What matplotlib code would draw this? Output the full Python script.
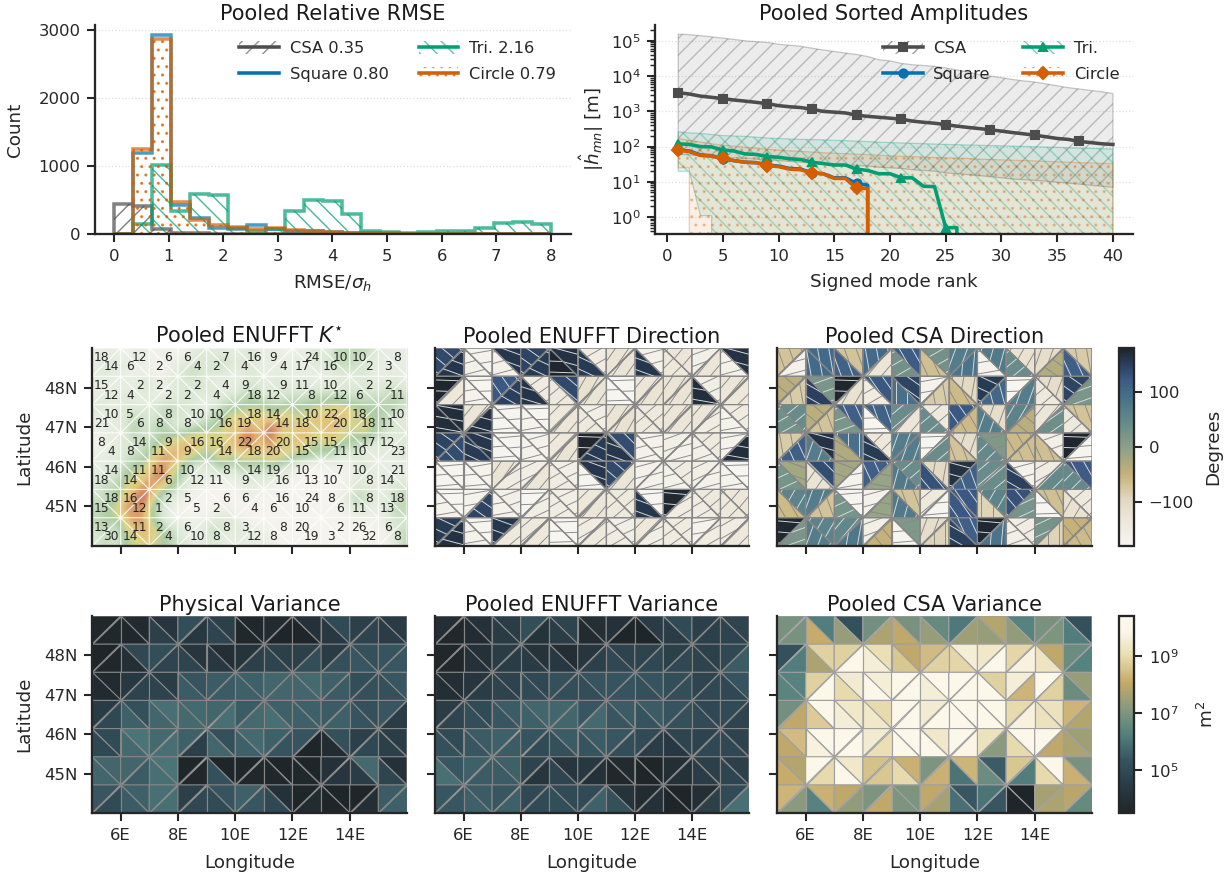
import matplotlib
matplotlib.use('Agg')
import matplotlib.pyplot as plt
import numpy as np
from matplotlib.collections import LineCollection
from matplotlib.colors import LinearSegmentedColormap, LogNorm, Normalize
from matplotlib.legend_handler import HandlerTuple
from matplotlib.lines import Line2D
from matplotlib.patches import Patch, Polygon

W, H = 1228, 879

plt.rcParams['font.family'] = 'DejaVu Sans'
plt.rcParams['hatch.linewidth'] = 0.7
plt.rcParams['text.color'] = '#262626'
plt.rcParams['axes.labelcolor'] = '#262626'
plt.rcParams['xtick.color'] = '#262626'
plt.rcParams['ytick.color'] = '#262626'
plt.rcParams['axes.edgecolor'] = '#262626'

COLORS = {'CSA': '#4d4d4d', 'Square': '#0072b2', 'Tri': '#009e73', 'Circle': '#d55e00'}
HATCH = {'CSA': '///', 'Square': None, 'Tri': '\\\\\\', 'Circle': '...'}
MARKERS = {'CSA': 's', 'Square': 'o', 'Tri': '^', 'Circle': 'D'}

# histogram counts, 23 bins between 0 and 8
n_bins = 23
hist_csa = [440, 410, 70, 20, 10, 5, 3, 2, 2, 1, 1, 0, 0, 0, 0, 0, 0, 0, 0, 0, 0, 0, 0]
hist_square = [0, 1190, 2920, 420, 230, 90, 70, 130, 70, 50, 40, 35, 15, 10, 5, 3, 2, 2, 1, 1, 0, 0, 0]
hist_tri = [0, 140, 1020, 340, 590, 570, 90, 40, 70, 340, 500, 480, 290, 50, 25, 10, 35, 40, 50, 95, 155, 180, 150]
hist_circle = [0, 1250, 2860, 470, 210, 130, 100, 70, 85, 55, 40, 30, 20, 15, 10, 5, 3, 2, 2, 1, 1, 0, 0]
hist_labels = {'CSA': 'CSA 0.35', 'Square': 'Square 0.80', 'Tri': 'Tri. 2.16', 'Circle': 'Circle 0.79'}
amp_labels = {'CSA': 'CSA', 'Square': 'Square', 'Tri': 'Tri.', 'Circle': 'Circle'}

# sorted amplitudes, rank 1..40
amp_csa = [3400, 3100, 2700, 2500, 2300, 2100, 1950, 1800, 1650, 1450, 1350, 1280, 1150, 1000, 950, 900, 780, 720,
           680, 640, 600, 530, 490, 460, 420, 380, 350, 325, 300, 275, 250, 230, 210, 190, 170, 160, 140, 130, 120, 115]
amp_square = [80, 75, 58, 55, 45, 40, 36, 35, 30, 28, 24, 23, 18, 17, 13, 13, 9, 8] + [0] * 22
amp_tri = [120, 115, 100, 98, 80, 75, 62, 60, 52, 50, 45, 43, 36, 33, 30, 30, 23, 21, 17, 17, 13, 13, 7.5, 7.3,
           0.5, 0.5] + [0] * 14
amp_circle = [80, 72, 56, 54, 46, 40, 36, 35, 29, 27, 23, 22, 18, 17, 12.5, 12.5, 6.5, 6.5] + [0] * 22

band_csa_hi = [1.55e5, 1.5e5, 1.4e5, 1.3e5, 1.2e5, 1.1e5, 1e5, 9.5e4, 9e4, 8e4, 7.5e4, 7e4, 6.2e4, 5.5e4, 5e4, 4.5e4,
               4.1e4, 3.6e4, 2.9e4, 2.7e4, 2.3e4, 2.1e4, 2e4, 1.9e4, 1.7e4, 1.5e4, 1.3e4, 1.1e4, 1e4, 9e3, 8e3, 7.3e3,
               6.8e3, 6e3, 5.3e3, 4.7e3, 4.3e3, 3.9e3, 3.6e3, 3.2e3]
band_csa_lo = [60, 58, 55, 53, 50, 48, 46, 44, 42, 40, 38, 36, 34, 33, 32, 30, 29, 28, 26, 25, 24, 22, 21, 20, 18, 17,
               16, 15, 14, 13, 12, 11.5, 11, 10.5, 9.7, 9.2, 8.6, 8, 7.5, 7]
band_tri_hi = [260, 245, 235, 220, 205, 200, 195, 185, 175, 170, 165, 160, 158, 155, 150, 147, 143, 138, 134, 130,
               127, 124, 121, 118, 115, 113, 111, 109, 107, 105, 103, 101, 99, 97, 95, 93, 91, 89, 87, 85]
band_tri_lo = [20, 20, 1.1, 1.1] + [0] * 36
band_circle_hi = [170, 150, 135, 120, 110, 103, 96, 90, 84, 80, 76, 73, 70, 67, 65, 63, 61, 59, 57, 55,
                  53, 52, 51, 49, 48, 47, 46, 44, 43, 42, 41, 40, 39, 38, 37, 36, 35, 34.5, 33.5, 33]
band_circle_lo = [25, 25] + [0] * 38

# grid of the triangle panels
lon_edges = [5, 6, 7, 8, 9, 10, 11, 12, 13, 14, 15, 16]
lat_rows = 7
lat_min, lat_max = 44, 49
lon_ticks = [6, 8, 10, 12, 14]
lon_labels = ['6E', '8E', '10E', '12E', '14E']
lat_ticks = [45, 46, 47, 48]
lat_labels = ['45N', '46N', '47N', '48N']

# diagonal of every cell, top row first
diagonals = ['/\\\\/\\\\/\\\\/\\',
             '/\\/\\\\/\\//\\/',
             '\\/\\\\/\\/\\//\\',
             '/\\\\\\//\\\\/\\/',
             '\\\\//\\\\//\\/\\',
             '\\/\\/\\/\\\\/\\\\',
             '/\\//\\/\\/\\//']

# every row: upper, lower triangle for each of the 11 cells
k_star = [
    [18, 14, 12, 6, 6, 2, 6, 4, 7, 2, 16, 4, 9, 4, 24, 17, 10, 16, 10, 2, 8, 3],
    [15, 12, 2, 4, 2, 2, 2, 2, 4, 4, 9, 18, 9, 12, 11, 8, 10, 12, 2, 6, 2, 11],
    [10, 21, 5, 6, 8, 8, 10, 8, 10, 16, 18, 19, 14, 14, 10, 18, 22, 20, 18, 18, 10, 11],
    [8, 4, 14, 8, 9, 11, 16, 9, 16, 14, 22, 18, 20, 20, 15, 15, 15, 11, 17, 10, 12, 23],
    [14, 18, 11, 14, 11, 6, 10, 12, 8, 11, 14, 9, 19, 16, 10, 13, 7, 10, 10, 8, 21, 14],
    [18, 15, 16, 12, 2, 1, 5, 5, 6, 2, 6, 4, 16, 6, 24, 10, 8, 6, 8, 11, 18, 13],
    [13, 30, 11, 14, 2, 4, 6, 10, 8, 8, 3, 12, 8, 8, 20, 19, 2, 3, 26, 32, 6, 8],
]
dir_enufft = [
    [140, 160, -170, -165, 160, -165, 145, 155, 165, 178, -150, 155, -125, -125, -165, 160, -130, -135, -160, -130, 165, -165],
    [178, -135, -178, -170, 125, 150, -145, 163, 140, -140, -120, -125, -178, -178, -130, -125, -125, -125, -155, 170, -130, -135],
    [170, 170, -130, 165, -175, -175, -178, -170, -135, -130, -155, -140, -125, -120, -140, -140, -130, -130, -130, -150, -145, -170],
    [145, 135, 160, 155, -175, -175, -165, -165, -135, -125, 178, 155, 135, 160, -170, -165, -160, -165, -140, -160, -170, 170],
    [-175, -175, -170, -175, -125, -150, -155, -130, -155, -150, 160, -175, 140, -130, -165, -165, -145, -165, -155, -165, -178, -170],
    [-178, -170, -170, 145, -160, -170, -178, -155, -155, -150, -135, -130, -140, -140, -175, 160, 175, -150, -140, -150, -130, -135],
    [155, 165, -175, -170, 160, -140, -140, -135, -178, -178, -150, -140, -155, -150, -135, -155, -145, -145, -170, -150, -150, -135],
]
dir_csa = [
    [-70, -165, 100, 100, -70, 110, 100, -130, 120, 30, 30, -65, 70, 85, 75, -170, -120, 40, -110, -35, -80, 115],
    [-40, -80, 20, 150, 178, -120, 125, -150, 145, 90, -170, -80, -100, -60, 155, 105, -178, 70, -110, -140, 145, 20],
    [40, 30, -40, -70, 115, 20, 110, -178, 40, -130, -140, 40, 125, -60, -110, 70, 60, -40, -130, 35, -70, -140],
    [-80, 115, 165, 70, 90, -30, -135, 155, 70, 70, -178, 40, -110, -70, 15, 45, -60, -65, -160, -65, 178, -175],
    [-20, 25, 135, -125, -20, -170, 115, -10, 40, 75, -100, 130, 165, 110, 40, 40, -165, 150, -150, 45, 120, 45],
    [60, -60, 70, -70, -175, 25, -165, -10, -70, 75, -140, -175, 125, 125, 60, -90, 130, 25, -65, -178, -140, -120],
    [175, 20, 60, 70, 50, 80, -160, -50, 15, -175, -110, -90, 115, 150, 175, 85, -150, -160, 25, -90, -50, -60],
]
# log10 of the variance in m2
var_physical = [
    [3.6, 3.6, 3.7, 3.6, 4.2, 4.6, 5.1, 4.3, 4.6, 4.8, 3.6, 3.6, 3.7, 3.5, 4.0, 3.5, 5.0, 4.3, 4.6, 4.7, 4.4, 4.5],
    [3.5, 3.6, 4.9, 3.9, 5.1, 4.8, 4.2, 4.8, 3.9, 4.3, 4.1, 4.6, 4.6, 4.8, 4.6, 5.1, 4.4, 5.2, 5.2, 5.4, 5.3, 5.4],
    [3.7, 3.7, 4.3, 4.7, 4.5, 4.7, 5.3, 5.5, 5.5, 5.5, 5.6, 5.6, 5.7, 5.7, 5.8, 5.7, 5.6, 5.5, 5.1, 5.2, 5.4, 5.2],
    [4.4, 4.9, 5.2, 5.6, 5.9, 5.7, 5.8, 5.8, 5.7, 5.9, 5.5, 5.8, 5.6, 5.9, 5.6, 5.6, 5.5, 5.6, 5.2, 5.3, 5.4, 4.5],
    [5.0, 4.9, 6.0, 5.8, 5.8, 5.9, 5.6, 4.6, 5.2, 5.7, 5.8, 5.6, 5.6, 5.3, 5.3, 3.5, 5.2, 3.8, 4.6, 4.9, 4.5, 4.6],
    [5.7, 5.7, 5.7, 5.5, 6.0, 5.9, 3.5, 3.6, 3.5, 5.2, 3.5, 3.6, 3.5, 3.6, 3.5, 3.6, 4.0, 4.2, 5.8, 4.5, 4.0, 4.8],
    [5.4, 5.0, 5.6, 5.5, 5.9, 5.9, 4.6, 4.9, 5.3, 5.0, 5.6, 5.4, 4.0, 4.9, 3.5, 3.7, 3.5, 3.4, 3.5, 3.9, 5.5, 5.6],
]
var_enufft = [
    [3.9, 3.6, 4.0, 3.8, 4.5, 4.4, 5.1, 4.1, 4.7, 4.5, 3.9, 3.7, 4.0, 3.5, 4.4, 3.5, 5.0, 4.5, 4.6, 4.6, 4.8, 4.7],
    [3.6, 3.6, 4.0, 4.0, 4.5, 4.5, 4.1, 4.4, 3.9, 4.3, 4.2, 4.6, 4.7, 4.9, 4.7, 4.9, 4.6, 4.9, 4.6, 4.7, 4.9, 5.5],
    [3.9, 3.9, 4.2, 4.5, 4.7, 4.7, 4.9, 5.0, 5.2, 5.1, 5.3, 5.1, 5.3, 5.3, 5.3, 5.2, 5.1, 5.1, 4.8, 4.9, 5.3, 4.9],
    [4.5, 4.8, 5.0, 5.1, 5.5, 5.4, 5.7, 5.6, 5.7, 5.7, 5.4, 5.8, 5.5, 5.4, 5.5, 5.3, 5.3, 5.2, 4.9, 5.0, 5.0, 4.8],
    [5.0, 5.2, 5.5, 5.4, 5.6, 5.5, 5.3, 5.0, 5.5, 5.2, 5.5, 5.3, 5.4, 5.1, 5.0, 4.5, 4.8, 4.3, 4.7, 4.9, 4.7, 4.9],
    [5.4, 5.9, 5.6, 5.5, 5.6, 5.5, 4.7, 4.2, 4.2, 4.8, 4.3, 4.0, 3.7, 3.6, 3.5, 3.5, 3.9, 4.0, 4.6, 4.5, 4.6, 4.8],
    [5.4, 5.4, 5.5, 5.6, 5.4, 5.6, 4.9, 5.0, 5.0, 5.1, 5.0, 5.6, 4.1, 5.2, 3.7, 4.0, 3.5, 3.5, 3.9, 4.6, 5.0, 5.9],
]
var_csa = [
    [6.9, 6.9, 6.2, 8.1, 5.2, 7.4, 6.8, 7.7, 6.9, 8.0, 6.6, 7.4, 6.1, 7.5, 7.8, 7.4, 6.3, 7.3, 6.9, 7.0, 5.2, 6.2],
    [5.2, 6.2, 8.8, 7.7, 8.8, 10, 9.1, 9.6, 8.0, 8.6, 8.4, 8.8, 9.6, 8.9, 9.4, 10, 8.9, 9.7, 8.0, 9.3, 6.7, 6.3],
    [6.3, 6.4, 8.8, 10, 9.5, 9.0, 9.6, 10, 10, 10, 10, 9.6, 10, 10, 8.8, 10, 9.6, 8.3, 10, 8.8, 7.4, 6.7],
    [6.8, 8.0, 10, 8.7, 9.4, 9.6, 9.0, 9.4, 10, 10, 9.5, 10, 10, 10, 10, 10, 9.0, 9.7, 9.2, 9.2, 8.3, 7.8],
    [8.4, 8.0, 10, 9.7, 10, 10, 9.5, 9.1, 10, 10, 9.4, 10, 10, 9.8, 9.2, 7.2, 10, 9.0, 10, 8.0, 7.5, 7.7],
    [7.8, 8.1, 10, 9.0, 9.4, 10, 8.5, 8.6, 8.2, 9.0, 7.0, 8.2, 8.3, 6.0, 5.5, 6.7, 8.6, 6.2, 10, 9.0, 6.9, 8.2],
    [8.3, 7.2, 8.2, 6.3, 8.0, 7.3, 7.0, 8.0, 7.0, 7.0, 8.0, 7.6, 5.4, 5.9, 6.0, 5.4, 3.5, 3.5, 7.6, 7.7, 7.9, 6.6],
]

# elevation behind the K panel, level 0-8, 3 samples per cell, top row first
terrain = [
    '111011010012121121110112133332111',
    '121111001122232221111112233321111',
    '121101001232221121111111122221111',
    '111112112222111122121111112121121',
    '111112101222211232122222222222232',
    '121211122221123343323334443333343',
    '211222233221234455445455566544432',
    '111232232212346666666557676554321',
    '111242342234456676876675765564322',
    '011232345566656786865765665443212',
    '011223466775566776766654543321212',
    '111233677654465565665443321211112',
    '112345776422242433432100010121111',
    '122456785311111222211000000121111',
    '233567764211000111100000000211122',
    '233678632100000010000000001332123',
    '335778421000000000000000001321133',
    '345777320000011000000000000111133',
    '343677421101222100000000000000122',
    '232567643111321211000000000000023',
    '232456543211211111100000000000013',
]


def px_axes(left, top, right, bottom):
    return fig.add_axes([left / W, 1 - bottom / H, (right - left) / W, (bottom - top) / H])


def style(ax):
    ax.spines['top'].set_visible(False)
    ax.spines['right'].set_visible(False)
    ax.spines['left'].set_linewidth(1.1)
    ax.spines['bottom'].set_linewidth(1.1)
    ax.tick_params(which='major', length=4, width=1.0, labelsize=7.9, pad=3)


# triangles of the grid, ordered like the value rows
def build_triangles():
    nx = len(lon_edges)
    lat_edges = np.linspace(lat_max, lat_min, lat_rows + 1)
    xs, ys = np.meshgrid(lon_edges, lat_edges)
    tris = []
    for r, row in enumerate(diagonals):
        for c, d in enumerate(row):
            ul = r * nx + c
            ur = ul + 1
            ll = ul + nx
            lr = ll + 1
            if d == '/':
                tris.append([ll, ur, ul])
                tris.append([ll, lr, ur])
            else:
                tris.append([ul, lr, ur])
                tris.append([ul, ll, lr])
    return xs.ravel(), ys.ravel(), np.array(tris)


def map_axes(ax, title, xlabels, ylabels):
    style(ax)
    ax.set_xlim(5, 16)
    ax.set_ylim(lat_min, lat_max)
    ax.set_xticks(lon_ticks)
    ax.set_yticks(lat_ticks)
    ax.set_xticklabels(lon_labels if xlabels else [])
    ax.set_yticklabels(lat_labels if ylabels else [])
    ax.set_title(title, fontsize=10, pad=2.5, color='#1a1a1a')
    if xlabels:
        ax.set_xlabel('Longitude', fontsize=8.8, labelpad=5.5)
    if ylabels:
        ax.set_ylabel('Latitude', fontsize=8.8, labelpad=5)


def draw_panel(ax, values, cmap, norm, edge='#868686'):
    xs, ys, tris = build_triangles()
    vals = np.ravel(values)
    return ax.tripcolor(xs, ys, tris, facecolors=vals, cmap=cmap, norm=norm,
                        edgecolors=edge, linewidth=0.55)


# direction strokes inside each triangle
def draw_direction_lines(ax, values, cmap, norm):
    xs, ys, tris = build_triangles()
    vals = np.ravel(values)
    kx, ky = 28.6, 39.7  # px per degree
    spacing = 11
    for tri, val in zip(tris, vals):
        px = xs[tri] * kx
        py = ys[tri] * ky
        cx, cy = px.mean(), py.mean()
        th = np.deg2rad(val)
        dx, dy = np.cos(th), np.sin(th)
        nx, ny = -dy, dx
        segs = []
        for off in np.arange(-6, 7) * spacing + spacing / 2:
            a = (cx + nx * off - dx * 60, cy + ny * off - dy * 60)
            b = (cx + nx * off + dx * 60, cy + ny * off + dy * 60)
            segs.append([(a[0] / kx, a[1] / ky), (b[0] / kx, b[1] / ky)])
        r, g, b, _ = cmap(norm(val))
        lum = 0.3 * r + 0.6 * g + 0.1 * b
        col = '#d5dcdc' if lum < 0.56 else '#8a8a8a'
        lc = LineCollection(segs, colors=col, linewidths=0.45, zorder=1.5)
        ax.add_collection(lc, autolim=False)
        clip = Polygon(np.column_stack([xs[tri], ys[tri]]), closed=True, transform=ax.transData)
        lc.set_clip_path(clip)
    # redraw the grid on top of the strokes
    ax.triplot(xs, ys, tris, color='#868686', lw=0.55, zorder=2)


def add_cbar(mappable, top, bottom, label, ticks=None, labelpad=4):
    cax = px_axes(1119, top, 1134, bottom)
    cb = fig.colorbar(mappable, cax=cax)
    cb.outline.set_linewidth(1.1)
    cb.ax.tick_params(which='major', length=4, width=1.0, labelsize=7.9, pad=3)
    cb.ax.tick_params(which='minor', length=0)
    if ticks is not None:
        cb.set_ticks(ticks)
    cb.set_label(label, fontsize=8.8, labelpad=labelpad)
    return cb


fig = plt.figure(figsize=(W / 150, H / 150), dpi=150)

# colour maps
var_cmap = LinearSegmentedColormap.from_list('variance', [
    (0.0, '#1f2629'), (0.12, '#283842'), (0.27, '#365560'), (0.40, '#53807f'),
    (0.53, '#87997f'), (0.66, '#c4a968'), (0.80, '#e8dcb0'), (0.92, '#fbf6e8'), (1.0, '#fcf8ec')])
dir_cmap = LinearSegmentedColormap.from_list('direction', [
    (0.0, '#f6f5f0'), (0.14, '#ece6d8'), (0.24, '#e0d7bd'), (0.36, '#c6b279'),
    (0.50, '#8ba088'), (0.63, '#64898a'), (0.76, '#466f8a'), (0.84, '#3c5a85'),
    (0.92, '#2a3f5c'), (1.0, '#1e252b')])
terrain_cmap = LinearSegmentedColormap.from_list('terrain_soft', [
    (0.0, '#f4f3ee'), (0.25, '#dbe8d4'), (0.5, '#acccA3'), (0.68, '#dcd48c'),
    (0.8, '#e3c27c'), (0.9, '#d69468'), (1.0, '#b9685a')])
var_norm = LogNorm(vmin=3e3, vmax=2.6e10)
dir_norm = Normalize(vmin=-180, vmax=180)

# ---- histogram
ax = px_axes(95, 25, 571, 234)
style(ax)
edges = np.linspace(0, 8, n_bins + 1)
centers = (edges[:-1] + edges[1:]) / 2
hists = {'CSA': hist_csa, 'Square': hist_square, 'Tri': hist_tri, 'Circle': hist_circle}
for name, counts in hists.items():
    ax.hist(centers, bins=edges, weights=counts, histtype='step', color=COLORS[name], lw=1.7, alpha=0.7,
            hatch=HATCH[name], clip_on=True)
ax.set_xlim(-0.35, 8.37)
ax.set_ylim(0, 3070)
ax.set_xticks(range(9))
ax.set_yticks([0, 1000, 2000, 3000])
ax.grid(axis='y', ls=':', lw=0.6, color='#dddddd')
ax.set_axisbelow(True)
ax.set_title('Pooled Relative RMSE', fontsize=10, pad=2.5, color='#1a1a1a')
ax.set_xlabel(r'RMSE/$\sigma_h$', fontsize=8.8, labelpad=4.5)
ax.set_ylabel('Count', fontsize=8.8, labelpad=7)

order = ['CSA', 'Square', 'Tri', 'Circle']
handles = []
for name in order:
    line = Line2D([], [], color=COLORS[name], lw=1.7)
    if HATCH[name]:
        patch = Patch(facecolor='none', edgecolor=COLORS[name], lw=0, hatch=HATCH[name], alpha=0.6)
        handles.append((patch, line))
    else:
        handles.append((line,))
ax.legend(handles, [hist_labels[n] for n in order], handler_map={tuple: HandlerTuple(ndivide=1, pad=0)},
          ncol=2, frameon=False, fontsize=7.8, loc='upper right', bbox_to_anchor=(0.982, 0.955),
          handlelength=2.45, handleheight=0.9, columnspacing=1.85, labelspacing=0.66, handletextpad=0.65,
          borderpad=0.2, borderaxespad=0.2)

# ---- amplitudes
ax = px_axes(655, 25, 1133, 234)
style(ax)
ranks = np.arange(1, 41)
bands = {'CSA': (band_csa_lo, band_csa_hi), 'Tri': (band_tri_lo, band_tri_hi), 'Circle': (band_circle_lo, band_circle_hi)}
for name, (lo, hi) in bands.items():
    ax.fill_between(ranks, lo, hi, facecolor=COLORS[name], edgecolor='none', alpha=0.1)
    ax.fill_between(ranks, lo, hi, facecolor='none', edgecolor=COLORS[name], hatch=HATCH[name], lw=0.6, alpha=0.3)
amps = {'CSA': amp_csa, 'Square': amp_square, 'Tri': amp_tri, 'Circle': amp_circle}
for name, vals in amps.items():
    ax.plot(ranks, vals, color=COLORS[name], lw=1.7, marker=MARKERS[name], ms=3.9, markevery=4)
ax.set_yscale('log')
ax.set_xlim(-1.08, 41.8)
ax.set_ylim(10 ** -0.48, 10 ** 5.45)
ax.set_xticks(range(0, 41, 5))
ax.set_yticks([1, 10, 100, 1e3, 1e4, 1e5])
ax.tick_params(which='minor', length=2.2, width=0.7)
ax.grid(axis='y', which='major', ls=':', lw=0.6, color='#dddddd')
ax.set_axisbelow(True)
ax.set_title('Pooled Sorted Amplitudes', fontsize=10, pad=2.5, color='#1a1a1a')
ax.set_xlabel('Signed mode rank', fontsize=8.8, labelpad=4.5)
ax.set_ylabel(r'$|\hat{h}_{mn}|$ [m]', fontsize=8.8, labelpad=2)

handles = []
for name in order:
    line = Line2D([], [], color=COLORS[name], lw=1.7, marker=MARKERS[name], ms=3.9)
    if HATCH[name]:
        patch = Patch(facecolor='none', edgecolor=COLORS[name], lw=0, hatch=HATCH[name], alpha=0.5)
        handles.append((patch, line))
    else:
        handles.append((line,))
ax.legend(handles, [amp_labels[n] for n in order], handler_map={tuple: HandlerTuple(ndivide=1, pad=0)}, ncol=2,
          frameon=False, fontsize=7.8, loc='upper right', bbox_to_anchor=(0.985, 0.955), handlelength=2.45,
          handleheight=0.9, columnspacing=2.0, labelspacing=0.66, handletextpad=0.65, borderpad=0.2,
          borderaxespad=0.2)

# ---- K panel
ax = px_axes(92, 348, 407, 546)
map_axes(ax, r'Pooled ENUFFT $K^{\star}$', False, True)
elev = np.array([[int(ch) for ch in row] for row in terrain])
ax.imshow(elev, extent=(5, 16, lat_min, lat_max), cmap=terrain_cmap, vmin=0, vmax=8, aspect='auto',
          interpolation='bicubic')
xs, ys, tris = build_triangles()
ax.triplot(xs, ys, tris, color='white', lw=0.55, alpha=0.85)
ax.set_xlim(5, 16)
ax.set_ylim(lat_min, lat_max)
for tri, val in zip(tris, np.ravel(k_star)):
    ax.text(xs[tri].mean(), ys[tri].mean(), str(val), ha='center', va='center', fontsize=5.9, color='#262626')

# ---- direction panels
ax = px_axes(435, 348, 749, 546)
map_axes(ax, 'Pooled ENUFFT Direction', False, False)
draw_panel(ax, dir_enufft, dir_cmap, dir_norm)
draw_direction_lines(ax, dir_enufft, dir_cmap, dir_norm)

ax = px_axes(777, 348, 1092, 546)
map_axes(ax, 'Pooled CSA Direction', False, False)
m_dir = draw_panel(ax, dir_csa, dir_cmap, dir_norm)
draw_direction_lines(ax, dir_csa, dir_cmap, dir_norm)
add_cbar(m_dir, 348, 546, 'Degrees', ticks=[-100, 0, 100], labelpad=5)

# ---- variance panels
ax = px_axes(92, 616, 407, 813)
map_axes(ax, 'Physical Variance', True, True)
draw_panel(ax, 10.0 ** np.array(var_physical), var_cmap, var_norm)

ax = px_axes(435, 616, 749, 813)
map_axes(ax, 'Pooled ENUFFT Variance', True, False)
draw_panel(ax, 10.0 ** np.array(var_enufft), var_cmap, var_norm)

ax = px_axes(777, 616, 1092, 813)
map_axes(ax, 'Pooled CSA Variance', True, False)
m_var = draw_panel(ax, 10.0 ** np.array(var_csa), var_cmap, var_norm, edge='#a0a0a0')
add_cbar(m_var, 616, 813, r'm$^2$', ticks=[1e5, 1e7, 1e9], labelpad=9)

fig.savefig('out.png', dpi=150)
